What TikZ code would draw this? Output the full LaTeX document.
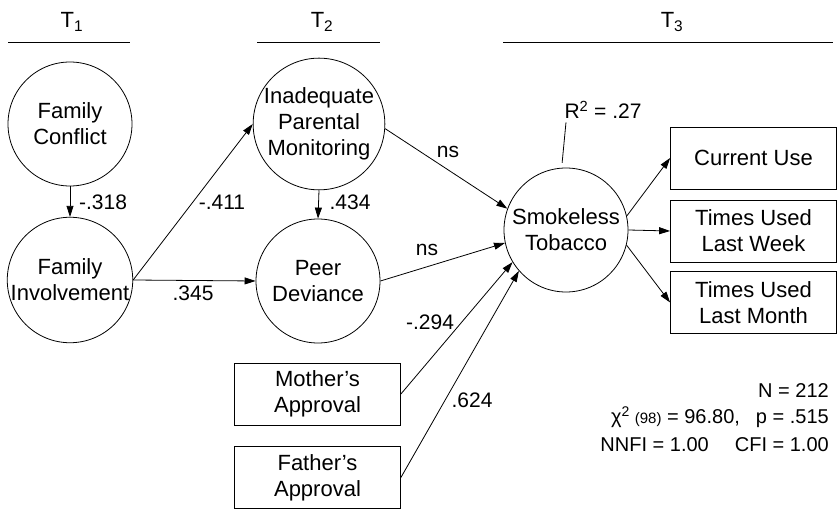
\documentclass[tikz,border=0pt]{standalone}
\usepackage{fontspec}
\setmainfont{Liberation Sans}
\usetikzlibrary{arrows.meta}

\begin{document}
\begin{tikzpicture}[x=1pt,y=-1pt,
  every node/.style={font=\fontsize{22}{26}\selectfont},
  latent/.style={circle,draw,line width=0.8pt,minimum size=124pt,inner sep=0pt,align=center},
  indicator/.style={rectangle,draw,line width=0.8pt,minimum width=166pt,minimum height=62pt,inner sep=0pt,align=center},
  path/.style={-{Triangle[length=11pt,width=7pt]},line width=0.8pt},
  coef/.style={font=\fontsize{21}{24}\selectfont},
  stat/.style={font=\fontsize{20}{22}\selectfont,inner sep=1pt,anchor=east}]
\useasboundingbox (0,0) rectangle (838,510);
% time points
\node (t1) at (72,22) {T\textsubscript{1}};
\node (t2) at (322,22) {T\textsubscript{2}};
\node (t3) at (672,22) {T\textsubscript{3}};
\draw[line width=0.8pt] (8,42) -- (130,42);
\draw[line width=0.8pt] (257,42) -- (380,42);
\draw[line width=0.8pt] (503,42) -- (833,42);
% latent variables
\node [latent] (fc) at (70,124) {Family\\Conflict};
\node [latent] (fi) at (70,280) {Family\\Involvement};
\node [latent] (ipm) at (319,124) {Inadequate\\Parental\\Monitoring};
\node [latent] (pd) at (318,281) {Peer\\Deviance};
\node [latent] (st) at (566,230) {Smokeless\\Tobacco};
% measured variables
\node [indicator] (ma) at (317.5,394) {Mother's\\Approval};
\node [indicator] (fa) at (317.5,477.5) {Father's\\Approval};
\node [indicator] (cu) at (753.5,158) {Current Use};
\node [indicator] (tulw) at (753.5,231) {Times Used\\Last Week};
\node [indicator] (tulm) at (753.5,302.5) {Times Used\\Last Month};
% paths
\draw[path] (fc) -- (fi);
\draw[path] (ipm.south) -- (pd.north);
\draw[path] (fi.east) -- (ipm.west);
\draw[path] (fi.east) -- (pd.west);
\draw[path] (ipm.-4) -- (st.160);
\draw[path] (pd.east) -- (st.192);
\draw[path] (ma.east) -- (st.211);
\draw[path] (fa.east) -- (st.221);
\draw[path] (st.13) -- (cu.west);
\draw[path] (st.east) -- (tulw.west);
\draw[path] (st.-14) -- (tulm.west);
% coefficients
\node [coef] (c318) at (103,202) {-.318};
\node [coef] (c411) at (222,202) {-.411};
\node [coef] (c434) at (350,202) {.434};
\node [coef] (c345) at (193,293) {.345};
\node [coef] (ns1) at (448,152) {ns};
\node [coef] (ns2) at (427,250) {ns};
\node [coef] (c294) at (430,322) {-.294};
\node [coef] (c624) at (472,400) {.624};
\node [coef] (r2) at (603,110) {R\textsuperscript{2} = .27};
\draw[line width=0.8pt,shorten >=5pt] ([xshift=5pt]r2.south west) -- (st.94);
% fit
\node [stat] (n) at (830,391) {N = 212};
\node [stat] (chi) at (830,417) {χ\textsuperscript{2}\hspace{0.25em}{\fontsize{15}{17}\selectfont(98)} = 96.80,\hspace{0.8em}p = .515};
\node [stat] (fit) at (830,445) {NNFI = 1.00\hspace{1.3em}CFI = 1.00};
\end{tikzpicture}
\end{document}
